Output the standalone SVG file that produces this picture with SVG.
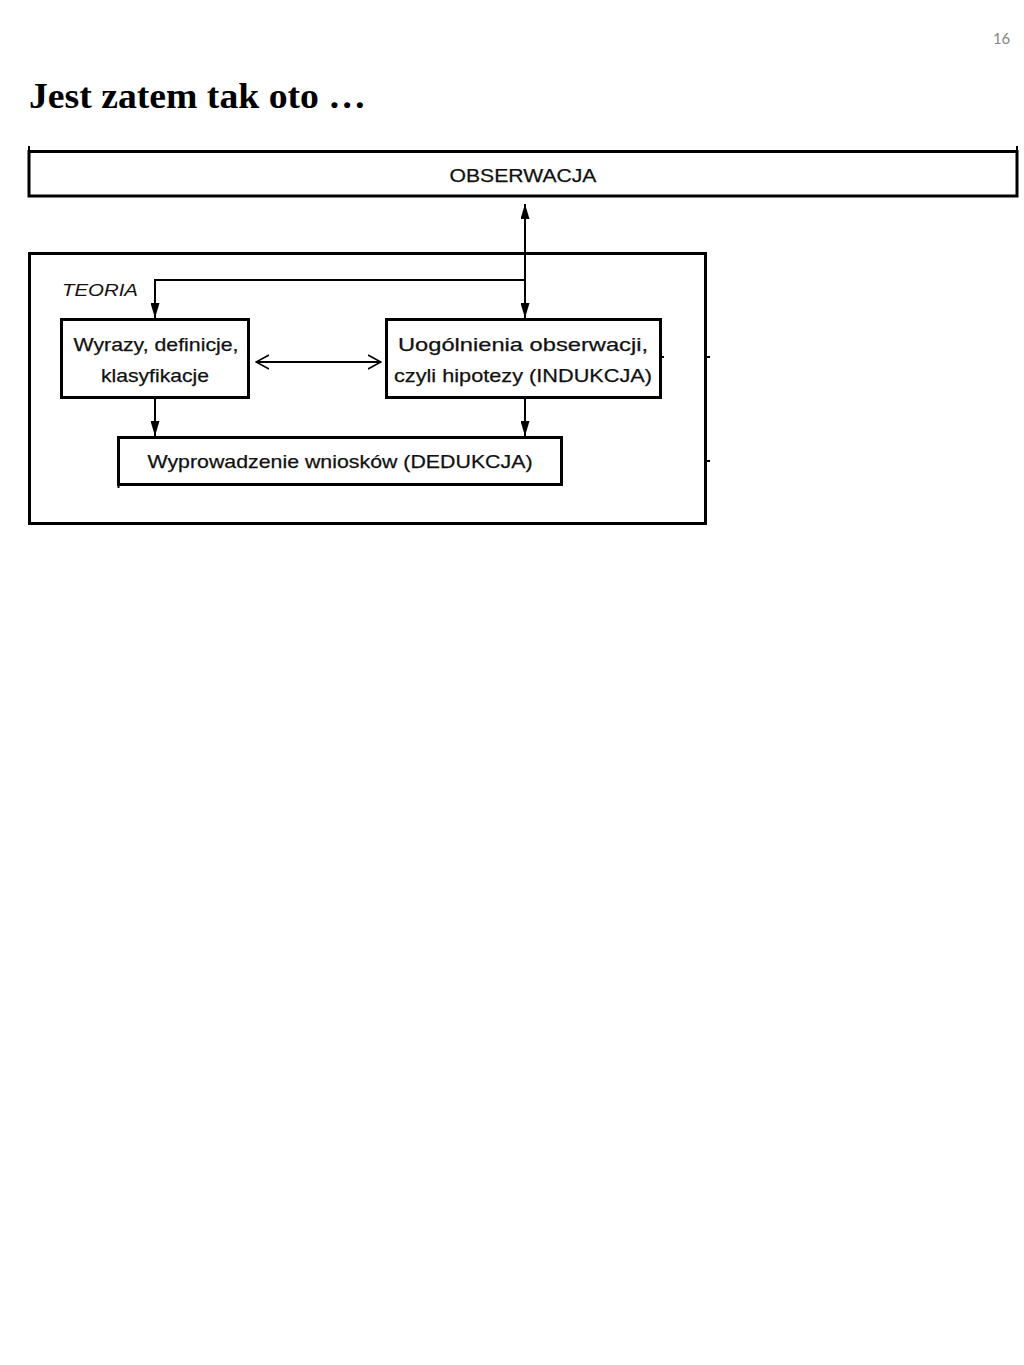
<svg xmlns="http://www.w3.org/2000/svg" width="1024" height="1365" viewBox="0 0 1024 1365">
<style>
.box{fill:#fff;stroke:#000;stroke-width:3}
.ln{fill:none;stroke:#000;stroke-width:2}
.t{font-family:"Liberation Sans",Arial,sans-serif;font-size:19px;fill:#111;text-anchor:middle;stroke:#111;stroke-width:0.25}
</style>
<defs>
<marker id="fh" viewBox="0 0 15 9" refX="15" refY="4.5" markerWidth="15" markerHeight="9" markerUnits="userSpaceOnUse" orient="auto">
<path d="M0,0 L15,4.5 L0,9 Z" fill="#000"/>
</marker>
<marker id="oh" viewBox="0 0 14 16" refX="13" refY="8" markerWidth="14" markerHeight="16" markerUnits="userSpaceOnUse" orient="auto-start-reverse">
<path d="M0,1 L13,8 L0,15" fill="none" stroke="#000" stroke-width="1.6"/>
</marker>
</defs>
<rect width="1024" height="1365" fill="#fff"/>
<text x="1010" y="44" font-family="Carlito,'Liberation Sans',sans-serif" font-size="17" fill="#8a8a8a" text-anchor="end">16</text>
<text x="29" y="108" font-family="'Liberation Serif','Times New Roman',serif" font-size="35" font-weight="bold" fill="#000" textLength="337" lengthAdjust="spacingAndGlyphs">Jest zatem tak oto …</text>

<g id="obserwacja">
<rect class="box" x="29" y="151.5" width="988" height="44.5"/>
<line class="ln" x1="29" y1="146" x2="29" y2="152"/>
<line class="ln" x1="1017" y1="146" x2="1017" y2="152"/>
<text class="t" x="523" y="182" textLength="147" lengthAdjust="spacingAndGlyphs">OBSERWACJA</text>
</g>

<g id="teoria">
<rect class="box" x="29.5" y="253.5" width="676" height="270"/>
<text x="62" y="296" font-family="'Liberation Sans',Arial,sans-serif" font-size="17" font-style="italic" fill="#111" textLength="76" lengthAdjust="spacingAndGlyphs">TEORIA</text>
<line class="ln" x1="706" y1="357" x2="710" y2="357"/>
<line class="ln" x1="706" y1="461" x2="710" y2="461"/>
</g>

<g id="wyrazy">
<rect class="box" x="61.5" y="319.5" width="187" height="78"/>
<text class="t" x="156" y="351" textLength="165" lengthAdjust="spacingAndGlyphs">Wyrazy, definicje,</text>
<text class="t" x="155" y="382" textLength="108" lengthAdjust="spacingAndGlyphs">klasyfikacje</text>
</g>

<g id="uogolnienia">
<rect class="box" x="386.5" y="319.5" width="274" height="78"/>
<text class="t" x="523" y="351" textLength="250" lengthAdjust="spacingAndGlyphs">Uogólnienia obserwacji,</text>
<text class="t" x="523" y="382" textLength="258" lengthAdjust="spacingAndGlyphs">czyli hipotezy (INDUKCJA)</text>
<line class="ln" x1="661" y1="357" x2="664" y2="357" stroke-width="1.5"/>
</g>

<g id="dedukcja">
<rect class="box" x="118.5" y="437.5" width="443" height="47"/>
<line class="ln" x1="118.5" y1="484" x2="118.5" y2="488"/>
<text class="t" x="340" y="468" textLength="385" lengthAdjust="spacingAndGlyphs">Wyprowadzenie wniosków (DEDUKCJA)</text>
</g>

<g id="connectors">
<line class="ln" x1="525" y1="318" x2="525" y2="204" marker-end="url(#fh)"/>
<line class="ln" x1="525" y1="280" x2="525" y2="318" marker-end="url(#fh)"/>
<polyline class="ln" points="525,280 155,280 155,318" marker-end="url(#fh)"/>
<line class="ln" x1="256" y1="362" x2="381" y2="362" stroke-width="1.5" marker-start="url(#oh)" marker-end="url(#oh)"/>
<line class="ln" x1="155" y1="398" x2="155" y2="436" marker-end="url(#fh)"/>
<line class="ln" x1="525" y1="398" x2="525" y2="436" marker-end="url(#fh)"/>
</g>
</svg>
